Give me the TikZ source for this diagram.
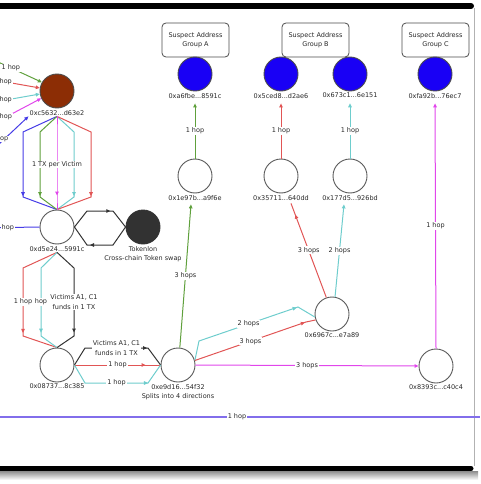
\documentclass[tikz,border=0pt]{standalone}
\usepackage{fontspec}
\setmainfont{DejaVu Sans}
\usetikzlibrary{arrows.meta,decorations.markings}
\definecolor{cgreen}{RGB}{95,160,60}
\definecolor{cred}{RGB}{225,85,85}
\definecolor{ccyan}{RGB}{110,205,205}
\definecolor{cmag}{RGB}{225,70,235}
\definecolor{cblue}{RGB}{70,60,230}
\definecolor{clav}{RGB}{130,110,235}
\definecolor{nblue}{RGB}{25,0,245}
\definecolor{nbrown}{RGB}{140,45,5}
\definecolor{ndark}{RGB}{50,50,50}
\definecolor{ctext}{RGB}{40,40,40}
\begin{document}
\begin{tikzpicture}[x=1pt,y=-1pt,
  font=\fontsize{6.5}{9.5}\selectfont,
  circ/.style={circle,draw=black!65,line width=0.9pt,minimum size=34pt,inner sep=0pt},
  wnode/.style={circ,fill=white},
  bnode/.style={circ,fill=nblue,draw=black!70},
  brnode/.style={circ,fill=nbrown,draw=black!70},
  dnode/.style={circ,fill=ndark,draw=black!80},
  idl/.style={inner sep=1pt,text=ctext,label distance=0.5pt},
  grp/.style={draw=black!70,rounded corners=4pt,minimum width=67pt,minimum height=34pt,align=center,line width=0.8pt,fill=white,text=ctext},
  conn/.style={line width=1pt},
  tip/.style={-{Triangle[length=4pt,width=3.5pt]}},
  tipat/.style={postaction={decorate},decoration={markings,mark=at position #1 with {\arrow{Triangle[length=4pt,width=3.5pt]}}}},
  lbl/.style={fill=white,inner sep=0.8pt,text=ctext,align=center}
]
\useasboundingbox (0,0) rectangle (480,484);
\clip (0,0) rectangle (480,484);

% frame
\shade[top color=black!45,bottom color=white] (0,471) rectangle (478,480);
\draw[black!30,line width=1pt] (474,8) -- (474,466);
\draw[line width=6pt,line cap=round] (-5,6) -- (471,6);
\draw[line width=5pt,line cap=round] (-5,468.5) -- (471,468.5);

% group boxes
\node[grp] (gA) at (195.5,40) {Suspect Address\\Group A};
\node[grp] (gB) at (315.5,40) {Suspect Address\\Group B};
\node[grp] (gC) at (435.5,40) {Suspect Address\\Group C};

% nodes
\node[bnode,label={[idl,name=la6]below:0xa6fbe...8591c}] (a6) at (195,74) {};
\node[bnode,label={[idl,name=ls5c]below:0x5ced8...d2ae6}] (s5c) at (281,74) {};
\node[bnode,label={[idl,name=ls67]below:0x673c1...6e151}] (s67) at (350,74) {};
\node[bnode,label={[idl,name=lfa]below:0xfa92b...76ec7}] (fa) at (435,74) {};
\node[wnode,label={[idl,name=ln1e]below:0x1e97b...a9f6e}] (n1e) at (195,176) {};
\node[wnode,label={[idl,name=ln35]below:0x35711...640dd}] (n35) at (281,176) {};
\node[wnode,label={[idl,name=ln17]below:0x177d5...926bd}] (n17) at (350,176) {};
\node[wnode,label={[idl,name=ln69]below:0x6967c...e7a89}] (n69) at (332,314) {};
\node[wnode,label={[idl,name=ln83]below:0x8393c...c40c4}] (n83) at (436,366) {};
\node[wnode,label={[idl,align=center,name=le9]below:0xe9d16...54f32\\Splits into 4 directions}] (e9) at (178,365) {};
\node[wnode,label={[idl,name=ln08]below:0x08737...8c385}] (n08) at (57,365) {};
\node[wnode,label={[idl,name=ld5]below:0xd5e24...5991c}] (d5) at (57,227) {};
\node[dnode,label={[idl,align=center,name=ltk]below:Tokenlon\\Cross-chain Token swap}] (tk) at (143,227) {};
\node[brnode,label={[idl,name=lc5]below:0xc5632...d63e2}] (c5) at (57,91) {};

% incoming to c5 (from outside the view)
\coordinate (ig) at (-20.3,53.5);
\coordinate (ir) at (-28.3,76);
\coordinate (ic) at (-28.3,106);
\coordinate (im) at (-29.6,135.8);
\coordinate (ib) at (-20,162);
\draw[conn,cgreen,tip] (ig) -- node[lbl]{1 hop} (c5.150);
\draw[conn,cred,tip] (ir) -- node[lbl]{hop} (c5.170);
\draw[conn,ccyan,tip] (ic) -- node[lbl]{hop} (c5.190);
\draw[conn,cmag,tip] (im) -- node[lbl]{hop} (c5.205);
\draw[conn,cblue,tip] (ib) -- node[lbl]{op} (lc5.south west);

% fan c5 -> d5
\draw[conn,cblue,tipat=-37pt] (lc5.south) -- (23,132) -- (23,197) -- (d5.north);
\draw[conn,cgreen,tipat=-22pt] (lc5.south) -- (40,132) -- (40,197) -- (d5.north);
\draw[conn,ccyan,tipat=-22pt] (lc5.south) -- (74,132) -- (74,197) -- (d5.north);
\draw[conn,cred,tipat=-37pt] (lc5.south) -- (91,132) -- (91,197) -- (d5.north);
\draw[conn,cmag,tipat=-14pt] (lc5.south) -- (57,132) -- node[lbl]{1 TX per Victim} (57,197) -- (d5.north);

% blue into d5
\coordinate (bd) at (-24,228);
\draw[conn,cblue] (bd) -- node[lbl]{hop} (d5.west);

% d5 <-> Tokenlon
\draw[conn,black!80,tipat=-23pt] (d5.east) -- (87,211) -- (113,211) -- (tk.west);
\draw[conn,black!80,tipat=-25pt] (tk.west) -- (113,245) -- (87,245) -- (d5.east);

% d5 -> 08737
\draw[conn,cred,tipat=-39pt] (ld5.south) -- (23,268) -- node[lbl]{1 hop} (23,336) -- (n08.north);
\draw[conn,ccyan,tipat=-23pt] (ld5.south) -- (41,268) -- node[lbl]{hop} (41,336) -- (n08.north);
\draw[conn,black!80,tipat=-24pt] (ld5.south) -- (74,268) -- node[lbl]{Victims A1, C1\\funds in 1 TX} (74,336) -- (n08.north);

% 08737 -> e9d16
\draw[conn,black!80,tipat=-22pt] (n08.east) -- (85,348) -- node[lbl]{Victims A1, C1\\funds in 1 TX} (148,348) -- (e9.west);
\draw[conn,cred,tipat=-15pt] (n08.east) -- node[lbl]{1 hop} (e9.west);
\draw[conn,ccyan,tipat=-22pt] (n08.east) -- (85,383) -- node[lbl]{1 hop} (148,383) -- (e9.west);

% e9d16 splits
\draw[conn,cgreen,tip] (e9.84) -- node[lbl]{3 hops} ([xshift=-4pt,yshift=-3pt]ln1e.south);
\draw[conn,ccyan,tipat=-21pt] (e9.15) -- (199,341) -- node[lbl]{2 hops} (298,307) -- (n69.190);
\draw[conn,cred,tipat=-11pt] (e9.15) -- node[lbl]{3 hops} (306,322) -- (n69.200);
\draw[conn,cmag,tip] (e9.east) -- node[lbl]{3 hops} (n83.west);

% 6967c -> second layer
\draw[conn,cred,tipat=-12pt] (n69.109) -- node[lbl]{3 hops} ([xshift=10pt,yshift=-2pt]ln35.south);
\draw[conn,ccyan,tip] (n69.80) -- node[lbl]{2 hops} ([xshift=-6pt,yshift=-3pt]ln17.south);

% to suspect addresses
\draw[conn,cgreen,tip] (n1e.north) -- node[lbl]{1 hop} ([yshift=-4pt]la6.south);
\draw[conn,cred,tip] (n35.north) -- node[lbl]{1 hop} ([yshift=-4pt]ls5c.south);
\draw[conn,ccyan,tip] (n17.north) -- node[lbl]{1 hop} ([yshift=-4pt]ls67.south);
\draw[conn,cmag,tip] (n83.north) -- node[lbl]{1 hop} ([yshift=-4pt]lfa.south);

% bottom line
\coordinate (bl) at (-6,417);
\coordinate (br) at (480,417);
\draw[clav,line width=1.4pt] (bl) -- node[lbl]{1 hop} (br);
\end{tikzpicture}
\end{document}
